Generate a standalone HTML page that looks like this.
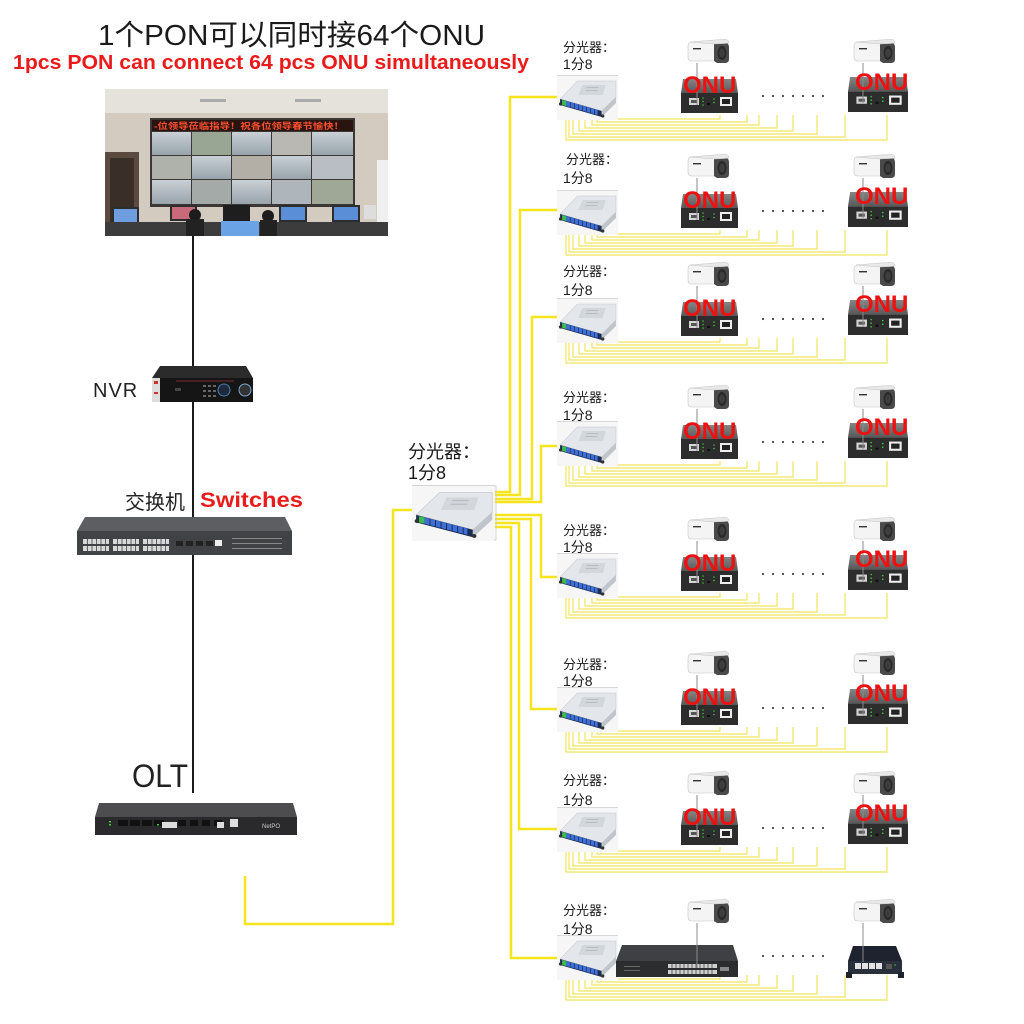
<!DOCTYPE html>
<html>
<head>
<meta charset="utf-8">
<style>
  html,body{margin:0;padding:0;background:#fff;}
  svg{display:block;}
  .cj{font-family:"Liberation Sans","Noto Sans CJK SC",sans-serif;}
</style>
</head>
<body>
<svg width="1024" height="1024" viewBox="0 0 1024 1024" xmlns="http://www.w3.org/2000/svg" xmlns:xlink="http://www.w3.org/1999/xlink">
<defs>
  <linearGradient id="scr" x1="0" y1="0" x2="0" y2="1">
    <stop offset="0" stop-color="#c9d0d6"/>
    <stop offset="1" stop-color="#98a3ab"/>
  </linearGradient>
  <linearGradient id="onutop" x1="0" y1="0" x2="0" y2="1">
    <stop offset="0" stop-color="#858585"/>
    <stop offset="1" stop-color="#585858"/>
  </linearGradient>
  <symbol id="spl" viewBox="0 0 60 45" preserveAspectRatio="none">
    <rect x="0" y="0" width="60" height="45" fill="#f6f6f7"/>
    <path d="M0,0.4 H60" stroke="#cfcfcf" stroke-width="0.7"/>
    <polygon points="3,24 20,6 58,6 58,22 44,36" fill="#e3e6ea" stroke="#c3c7cc" stroke-width="0.5"/>
    <polygon points="25,10 48,10 45,20 21,20" fill="#d2d7dc"/>
    <rect x="29" y="12" width="12" height="1" fill="#b8bec4"/>
    <rect x="28" y="15" width="12" height="1" fill="#b8bec4"/>
    <polygon points="3,24 44,36 44,42 3,30" fill="#1d2c52"/>
    <polygon points="9,26 40,35 40,40 9,31" fill="#3e6fd6"/>
    <polygon points="5,25 9,26 9,31 5,30" fill="#3cbb50"/>
    <path d="M13,27.2V32.2 M17,28.4V33.4 M21,29.6V34.6 M25,30.7V35.7 M29,31.9V36.9 M33,33V38 M37,34.2V39.2" stroke="#1d2c52" stroke-width="0.7"/>
    <polygon points="44,36 58,22 58,28 44,42" fill="#c0c5cb"/>
    <circle cx="3.5" cy="29" r="1.6" fill="#333"/>
    <circle cx="45" cy="41" r="1.6" fill="#333"/>
  </symbol>
  <symbol id="onu" viewBox="0 0 57 34" preserveAspectRatio="none">
    <polygon points="2,0 55,0 57,14 0,14" fill="url(#onutop)"/>
    <rect x="0" y="14" width="57" height="20" fill="#2d2d2d"/>
    <rect x="8" y="19" width="10" height="7" fill="#d5d5d5"/>
    <rect x="10" y="21" width="6" height="3" fill="#555"/>
    <circle cx="22" cy="19" r="0.8" fill="#3c3"/>
    <circle cx="22" cy="22.5" r="0.8" fill="#3c3"/>
    <circle cx="22" cy="26" r="0.8" fill="#3c3"/>
    <rect x="26" y="24" width="3" height="2" fill="#111"/>
    <circle cx="33" cy="20" r="0.8" fill="#3c3"/>
    <circle cx="33" cy="23.5" r="0.8" fill="#3c3"/>
    <rect x="39" y="18" width="12" height="9" fill="#eee"/>
    <rect x="41" y="20" width="8" height="5" fill="#222"/>
  </symbol>
  <symbol id="cam" viewBox="0 0 42 25" preserveAspectRatio="none">
    <path d="M1,7 Q1,3 5,3 L29,2 L29,22 L5,22 Q1,22 1,18 Z" fill="#f4f4f4" stroke="#c6c6c6" stroke-width="0.6"/>
    <path d="M27,4 L38,3.5 Q42,4 42,8 L42,20 Q42,24 38,24 L30,24 L27,22 Z" fill="#4a4a4a"/>
    <path d="M3,3 L27,1 L38,0.3 Q42,0.5 42,4 L38,4.5 L27,5 Z" fill="#e8e8e8" stroke="#c6c6c6" stroke-width="0.5"/>
    <ellipse cx="35" cy="14" rx="4.5" ry="7" fill="#2a2a2a"/>
    <ellipse cx="35" cy="14" rx="2.8" ry="4.5" fill="#3e3e3e"/>
    <rect x="6" y="9" width="8" height="1.4" fill="#333"/>
  </symbol>
  <g id="rowA">
    <path d="M566,42V65H887V40 M569,42V62H845V40 M573,42V59H817V40 M579,42V56H793V40 M585,42V53H777V40 M592,42V50H759V40 M597,42V47H747V40 M602,42V44H720V40" fill="none" stroke="#f1e55e" stroke-width="1.2"/>
    <use xlink:href="#spl" href="#spl" x="557" y="0" width="61" height="45"/>
    <use xlink:href="#cam" href="#cam" x="687" y="-36" width="42" height="25"/>
    <use xlink:href="#cam" href="#cam" x="853" y="-36" width="42" height="25"/>
    <g fill="#444">
      <circle cx="763" cy="21" r="1.1"/><circle cx="773" cy="21" r="1.1"/><circle cx="783" cy="21" r="1.1"/><circle cx="793" cy="21" r="1.1"/><circle cx="803" cy="21" r="1.1"/><circle cx="813" cy="21" r="1.1"/><circle cx="823" cy="21" r="1.1"/>
    </g>
  </g>
  <g id="onus">
    <use xlink:href="#onu" href="#onu" x="681" y="4" width="57" height="34"/>
    <use xlink:href="#onu" href="#onu" x="848" y="2" width="60" height="35"/>
    <line x1="697" y1="-12" x2="697" y2="30" stroke="#8a8a8a" stroke-width="1"/>
    <line x1="863" y1="-12" x2="863" y2="28" stroke="#8a8a8a" stroke-width="1"/>
  </g>
</defs>

<rect width="1024" height="1024" fill="#fff"/>

<!-- Titles -->
<text x="98" y="45" class="cj" font-size="29" fill="#1a1a1a" textLength="387" lengthAdjust="spacingAndGlyphs">1个PON可以同时接64个ONU</text>
<text x="13" y="69" font-family="Liberation Sans, sans-serif" font-weight="bold" font-size="20" fill="#ea1b1b" textLength="516" lengthAdjust="spacingAndGlyphs">1pcs PON can connect 64 pcs ONU simultaneously</text>

<!-- Video wall photo -->
<g>
  <rect x="105" y="89" width="283" height="147" fill="#d3cbc0"/>
  <rect x="105" y="89" width="283" height="24" fill="#e5e1db"/>
  <rect x="200" y="99" width="26" height="3" fill="#a9a9a9"/>
  <rect x="295" y="99" width="26" height="3" fill="#a9a9a9"/>
  <rect x="150" y="118" width="205" height="89" fill="#3a3735"/>
  <rect x="152" y="120" width="201" height="11" fill="#2a1410"/>
  <text x="154" y="129" class="cj" font-size="8.5" font-weight="bold" fill="#ff5030" textLength="190" lengthAdjust="spacingAndGlyphs">-位领导莅临指导！祝各位领导春节愉快！</text>
  <rect x="152" y="132" width="39" height="23" fill="url(#scr)"/>
  <rect x="192" y="132" width="39" height="23" fill="#9aa694"/>
  <rect x="232" y="132" width="39" height="23" fill="url(#scr)"/>
  <rect x="272" y="132" width="39" height="23" fill="#b9b8b2"/>
  <rect x="312" y="132" width="41" height="23" fill="url(#scr)"/>
  <rect x="152" y="156" width="39" height="23" fill="#aeb2aa"/>
  <rect x="192" y="156" width="39" height="23" fill="url(#scr)"/>
  <rect x="232" y="156" width="39" height="23" fill="#b3aea6"/>
  <rect x="272" y="156" width="39" height="23" fill="url(#scr)"/>
  <rect x="312" y="156" width="41" height="23" fill="#b8bec3"/>
  <rect x="152" y="180" width="39" height="24" fill="url(#scr)"/>
  <rect x="192" y="180" width="39" height="24" fill="#a3aaa8"/>
  <rect x="232" y="180" width="39" height="24" fill="url(#scr)"/>
  <rect x="272" y="180" width="39" height="24" fill="#aeb6bc"/>
  <rect x="312" y="180" width="41" height="24" fill="#9fa896"/>
  <rect x="105" y="152" width="34" height="84" fill="#5b4a3f"/>
  <rect x="110" y="158" width="24" height="78" fill="#3a2f28"/>
  <rect x="377" y="160" width="11" height="72" fill="#efefef"/>
  <rect x="112" y="207" width="27" height="17" fill="#2d2d2d"/>
  <rect x="114" y="209" width="23" height="13" fill="#6e9ee0"/>
  <rect x="170" y="205" width="27" height="16" fill="#2d2d2d"/>
  <rect x="172" y="207" width="23" height="12" fill="#c86a7a"/>
  <rect x="223" y="205" width="27" height="16" fill="#1e1e1e"/>
  <rect x="279" y="205" width="28" height="17" fill="#2d2d2d"/>
  <rect x="281" y="207" width="24" height="13" fill="#5a8ed6"/>
  <rect x="332" y="205" width="28" height="17" fill="#2d2d2d"/>
  <rect x="334" y="207" width="24" height="13" fill="#5a8ed6"/>
  <rect x="364" y="205" width="12" height="14" fill="#ddd"/>
  <rect x="105" y="222" width="283" height="14" fill="#3c3c3c"/>
  <rect x="221" y="221" width="38" height="15" fill="#6aa4e6"/>
  <circle cx="195" cy="215" r="6" fill="#1c1c1c"/>
  <rect x="186" y="219" width="18" height="17" fill="#222"/>
  <circle cx="268" cy="216" r="6" fill="#1c1c1c"/>
  <rect x="260" y="220" width="17" height="16" fill="#222"/>
</g>

<!-- black vertical line -->
<line x1="193" y1="236" x2="193" y2="793" stroke="#1a1a1a" stroke-width="2"/>

<!-- NVR -->
<text x="93" y="397" font-family="Liberation Sans, sans-serif" font-size="20" fill="#222" letter-spacing="1">NVR</text>
<polygon points="160,366 246,366 253,378 152,378" fill="#2b2b2b"/>
<rect x="152" y="378" width="101" height="24" fill="#151515"/>
<rect x="152" y="378" width="8" height="24" fill="#ddd"/>
<rect x="154" y="381" width="4" height="3" fill="#c33"/>
<rect x="154" y="392" width="4" height="2" fill="#c33"/>
<line x1="176" y1="381" x2="234" y2="381" stroke="#7a3030" stroke-width="1"/>
<rect x="175" y="388" width="6" height="3" fill="#444"/>
<g fill="#666">
  <rect x="203" y="385" width="3" height="2"/><rect x="208" y="385" width="3" height="2"/><rect x="213" y="385" width="3" height="2"/>
  <rect x="203" y="390" width="3" height="2"/><rect x="208" y="390" width="3" height="2"/><rect x="213" y="390" width="3" height="2"/>
  <rect x="203" y="395" width="3" height="2"/><rect x="208" y="395" width="3" height="2"/><rect x="213" y="395" width="3" height="2"/>
</g>
<circle cx="224" cy="390" r="6" fill="#1e2a3a" stroke="#4a7ab0" stroke-width="1"/>
<circle cx="245" cy="390" r="6" fill="#333" stroke="#7aa8d8" stroke-width="1"/>

<!-- Switch -->
<text x="125" y="509" class="cj" font-size="20" fill="#222">交换机</text>
<text x="200" y="507" font-family="Liberation Sans, sans-serif" font-weight="bold" font-size="21" fill="#ea1b1b" textLength="103" lengthAdjust="spacingAndGlyphs">Switches</text>
<polygon points="85,517 285,517 292,531 77,531" fill="#5c5e61"/>
<rect x="77" y="531" width="215" height="24" fill="#404245"/>
<g fill="#d8d8d8">
  <rect x="83" y="539" width="26" height="5"/><rect x="83" y="546" width="26" height="5"/>
  <rect x="113" y="539" width="26" height="5"/><rect x="113" y="546" width="26" height="5"/>
  <rect x="143" y="539" width="26" height="5"/><rect x="143" y="546" width="26" height="5"/>
</g>
<g stroke="#404245" stroke-width="0.8">
  <path d="M87.5,539V551 M92,539V551 M96.5,539V551 M101,539V551 M105.5,539V551 M117.5,539V551 M122,539V551 M126.5,539V551 M131,539V551 M135.5,539V551 M147.5,539V551 M152,539V551 M156.5,539V551 M161,539V551 M165.5,539V551"/>
</g>
<g fill="#222">
  <rect x="176" y="541" width="7" height="5"/><rect x="186" y="541" width="7" height="5"/><rect x="196" y="541" width="7" height="5"/><rect x="206" y="541" width="7" height="5"/>
</g>
<rect x="215" y="540" width="7" height="6" fill="#eee"/>
<g fill="#9a9a9a">
  <rect x="232" y="538" width="50" height="0.8"/><rect x="232" y="543" width="50" height="0.8"/><rect x="232" y="548" width="50" height="0.8"/>
</g>

<!-- OLT -->
<text x="132" y="787" font-family="Liberation Sans, sans-serif" font-size="32" fill="#222" textLength="56" lengthAdjust="spacingAndGlyphs">OLT</text>
<polygon points="99,803 293,803 297,817 95,817" fill="#4d4d4f"/>
<rect x="95" y="817" width="202" height="18" fill="#2a2a2c"/>
<g fill="#111">
  <rect x="118" y="820" width="10" height="6"/><rect x="130" y="820" width="10" height="6"/><rect x="142" y="820" width="10" height="6"/><rect x="154" y="820" width="10" height="6"/>
  <rect x="178" y="820" width="8" height="6"/><rect x="190" y="820" width="8" height="6"/><rect x="202" y="820" width="8" height="6"/><rect x="214" y="820" width="8" height="6"/>
</g>
<g fill="#ddd">
  <rect x="162" y="822" width="8" height="6"/><rect x="170" y="822" width="7" height="6"/>
  <rect x="217" y="822" width="7" height="6"/><rect x="230" y="819" width="8" height="8"/>
</g>
<g fill="#4c4">
  <rect x="109" y="821" width="2" height="1.5"/><rect x="109" y="824" width="2" height="1.5"/><rect x="157" y="824" width="2" height="1.5"/>
</g>
<text x="262" y="828" font-family="Liberation Sans, sans-serif" font-size="6" fill="#ccc">NetPO</text>

<!-- trunk yellow lines -->
<g fill="none" stroke="#f6e51d" stroke-width="2.5">
  <path d="M245,876 V924 H393 V510 H414"/>
  <path d="M494,492 H510 V97 H558"/>
  <path d="M494,495 H520 V210 H558"/>
  <path d="M494,499 H532 V317 H558"/>
  <path d="M494,502 H541 V446 H558"/>
  <path d="M494,515 H541 V577 H558"/>
  <path d="M494,519 H531 V709 H558"/>
  <path d="M494,523 H519 V829 H558"/>
  <path d="M494,527 H511 V958 H558"/>
</g>

<!-- central splitter -->
<text x="408" y="458" class="cj" font-size="18" fill="#1a1a1a">分光器：</text>
<text x="408" y="479" class="cj" font-size="18" fill="#1a1a1a">1分8</text>
<use xlink:href="#spl" href="#spl" x="412" y="485" width="83" height="56"/>
<path d="M494,486 H496 V540 H494" fill="none" stroke="#c8c8c8" stroke-width="0.8"/>

<!-- Row 1 -->
<use xlink:href="#rowA" href="#rowA" transform="translate(0,75)"/>
<use xlink:href="#onus" href="#onus" transform="translate(0,75)"/>
<text x="563" y="52" class="cj" font-size="13" fill="#1a1a1a">分光器：</text>
<text x="563" y="69" class="cj" font-size="14" fill="#1a1a1a">1分8</text>
<text x="683" y="93" font-family="Liberation Sans, sans-serif" font-weight="bold" font-size="24" fill="#ee1111">ONU</text>
<text x="855" y="90" font-family="Liberation Sans, sans-serif" font-weight="bold" font-size="24" fill="#ee1111">ONU</text>

<!-- Row 2 -->
<use xlink:href="#rowA" href="#rowA" transform="translate(0,190)"/>
<use xlink:href="#onus" href="#onus" transform="translate(0,190)"/>
<text x="566" y="164" class="cj" font-size="13" fill="#1a1a1a">分光器：</text>
<text x="563" y="183" class="cj" font-size="14" fill="#1a1a1a">1分8</text>
<text x="683" y="208" font-family="Liberation Sans, sans-serif" font-weight="bold" font-size="24" fill="#ee1111">ONU</text>
<text x="855" y="204" font-family="Liberation Sans, sans-serif" font-weight="bold" font-size="24" fill="#ee1111">ONU</text>

<!-- Row 3 -->
<use xlink:href="#rowA" href="#rowA" transform="translate(0,298)"/>
<use xlink:href="#onus" href="#onus" transform="translate(0,298)"/>
<text x="563" y="276" class="cj" font-size="13" fill="#1a1a1a">分光器：</text>
<text x="563" y="295" class="cj" font-size="14" fill="#1a1a1a">1分8</text>
<text x="683" y="316" font-family="Liberation Sans, sans-serif" font-weight="bold" font-size="24" fill="#ee1111">ONU</text>
<text x="855" y="312" font-family="Liberation Sans, sans-serif" font-weight="bold" font-size="24" fill="#ee1111">ONU</text>

<!-- Row 4 -->
<use xlink:href="#rowA" href="#rowA" transform="translate(0,421)"/>
<use xlink:href="#onus" href="#onus" transform="translate(0,421)"/>
<text x="563" y="402" class="cj" font-size="13" fill="#1a1a1a">分光器：</text>
<text x="563" y="420" class="cj" font-size="14" fill="#1a1a1a">1分8</text>
<text x="683" y="439" font-family="Liberation Sans, sans-serif" font-weight="bold" font-size="24" fill="#ee1111">ONU</text>
<text x="855" y="435" font-family="Liberation Sans, sans-serif" font-weight="bold" font-size="24" fill="#ee1111">ONU</text>

<!-- Row 5 -->
<use xlink:href="#rowA" href="#rowA" transform="translate(0,553)"/>
<use xlink:href="#onus" href="#onus" transform="translate(0,553)"/>
<text x="563" y="535" class="cj" font-size="13" fill="#1a1a1a">分光器：</text>
<text x="563" y="552" class="cj" font-size="14" fill="#1a1a1a">1分8</text>
<text x="683" y="571" font-family="Liberation Sans, sans-serif" font-weight="bold" font-size="24" fill="#ee1111">ONU</text>
<text x="855" y="567" font-family="Liberation Sans, sans-serif" font-weight="bold" font-size="24" fill="#ee1111">ONU</text>

<!-- Row 6 -->
<use xlink:href="#rowA" href="#rowA" transform="translate(0,687)"/>
<use xlink:href="#onus" href="#onus" transform="translate(0,687)"/>
<text x="563" y="669" class="cj" font-size="13" fill="#1a1a1a">分光器：</text>
<text x="563" y="686" class="cj" font-size="14" fill="#1a1a1a">1分8</text>
<text x="683" y="705" font-family="Liberation Sans, sans-serif" font-weight="bold" font-size="24" fill="#ee1111">ONU</text>
<text x="855" y="701" font-family="Liberation Sans, sans-serif" font-weight="bold" font-size="24" fill="#ee1111">ONU</text>

<!-- Row 7 -->
<use xlink:href="#rowA" href="#rowA" transform="translate(0,807)"/>
<use xlink:href="#onus" href="#onus" transform="translate(0,807)"/>
<text x="563" y="785" class="cj" font-size="13" fill="#1a1a1a">分光器：</text>
<text x="563" y="805" class="cj" font-size="14" fill="#1a1a1a">1分8</text>
<text x="683" y="825" font-family="Liberation Sans, sans-serif" font-weight="bold" font-size="24" fill="#ee1111">ONU</text>
<text x="855" y="821" font-family="Liberation Sans, sans-serif" font-weight="bold" font-size="24" fill="#ee1111">ONU</text>

<!-- Row 8 -->
<use xlink:href="#rowA" href="#rowA" transform="translate(0,935)"/>
<text x="563" y="915" class="cj" font-size="13" fill="#1a1a1a">分光器：</text>
<text x="563" y="934" class="cj" font-size="14" fill="#1a1a1a">1分8</text>
<!-- row8 switch -->
<polygon points="622,945 733,945 738,961 616,961" fill="#3e4043"/>
<rect x="616" y="961" width="122" height="16" fill="#2c2d2f"/>
<g fill="#cfcfcf">
  <rect x="668" y="964" width="49" height="4"/><rect x="668" y="970" width="49" height="4"/>
</g>
<g stroke="#2c2d2f" stroke-width="0.7">
  <path d="M672,964V974 M676,964V974 M680,964V974 M684,964V974 M688,964V974 M692,964V974 M696,964V974 M700,964V974 M704,964V974 M708,964V974 M712,964V974"/>
</g>
<rect x="720" y="967" width="9" height="4" fill="#888"/>
<g fill="#777"><rect x="624" y="966" width="16" height="0.8"/><rect x="624" y="970" width="16" height="0.8"/></g>
<line x1="697" y1="923" x2="697" y2="968" stroke="#8a8a8a" stroke-width="1"/>
<!-- row8 poe switch -->
<polygon points="853,946 896,946 902,961 848,961" fill="#1f2330"/>
<rect x="848" y="961" width="54" height="13" fill="#2a2f3c"/>
<rect x="846" y="972" width="6" height="6" fill="#1f2330"/>
<rect x="898" y="972" width="6" height="6" fill="#1f2330"/>
<g fill="#e2e2e2">
  <rect x="855" y="963" width="6" height="6"/><rect x="862" y="963" width="6" height="6"/><rect x="869" y="963" width="6" height="6"/><rect x="876" y="963" width="6" height="6"/>
</g>
<rect x="886" y="964" width="6" height="5" fill="#555"/>
<circle cx="895" cy="965" r="0.8" fill="#3c3"/>
<line x1="863" y1="923" x2="863" y2="962" stroke="#8a8a8a" stroke-width="1"/>

</svg>
</body>
</html>
